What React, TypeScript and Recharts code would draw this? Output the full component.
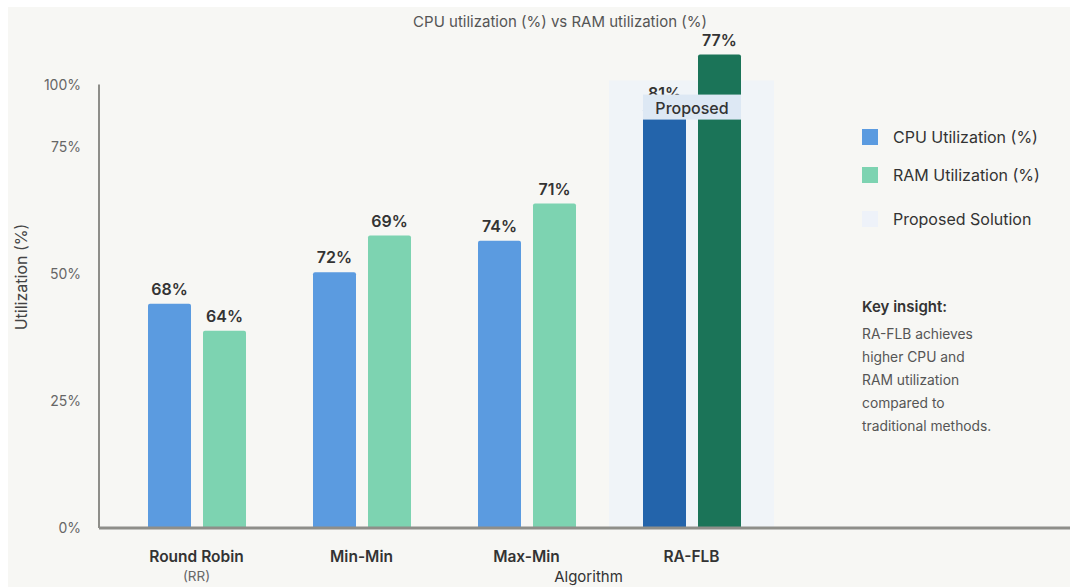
import React from 'react'
import {
  BarChart,
  Bar,
  XAxis,
  YAxis,
  CartesianGrid,
  Cell,
  LabelList,
  ReferenceArea,
  ReferenceLine,
  Legend,
} from 'recharts'

// categories and sub-captions
const algorithms = ['Round Robin', 'Min-Min', 'Max-Min', 'RA-FLB']
const subCaptions = ['(RR)', '', '', '']

// bar heights as drawn against the axis, and the labels printed on top
const cpuHeights = [44.1, 50.3, 56.5, 82.5]
const ramHeights = [38.8, 57.5, 63.8, 93.1]
const cpuLabels = ['68%', '72%', '74%', '81%']
const ramLabels = ['64%', '69%', '71%', '77%']

// y ticks (the top one is printed as 100%)
const yTicks = [0, 25, 50, 75, 87.2]
const yTickLabels = ['0%', '25%', '50%', '75%', '100%']

const insightLines = [
  'RA-FLB achieves',
  'higher CPU and',
  'RAM utilization',
  'compared to',
  'traditional methods.',
]

const legendItems = [
  { name: 'CPU Utilization (%)', color: '#5b9be0' },
  { name: 'RAM Utilization (%)', color: '#7dd3b1' },
  { name: 'Proposed Solution', color: '#eef2f9' },
]

const proposed = 'RA-FLB'
const CPU = '#5b9be0'
const RAM = '#7dd3b1'
const CPU_DARK = '#2364ab'
const RAM_DARK = '#1b7458'
const FONT = 'Inter, "Noto Sans", sans-serif'

const data = algorithms.map((name, i) => ({
  name,
  sub: subCaptions[i],
  cpu: cpuHeights[i],
  ram: ramHeights[i],
  cpuLabel: cpuLabels[i],
  ramLabel: ramLabels[i],
}))

const XTick = (props: any) => {
  const { x, y, payload, index } = props
  return (
    <g>
      <text x={x} y={y + 26} textAnchor="middle" fontSize={15.5} fontWeight={600} fill="#333" fontFamily={FONT}>
        {payload.value}
      </text>
      {subCaptions[index] ? (
        <text x={x} y={y + 45} textAnchor="middle" fontSize={13.5} fill="#666" fontFamily={FONT}>
          {subCaptions[index]}
        </text>
      ) : null}
    </g>
  )
}

const YLabel = (props: any) => {
  const { x, y, height } = props.viewBox
  const cx = x + 13
  const cy = y + height / 2 - 12
  return (
    <text x={cx} y={cy} transform={`rotate(-90 ${cx} ${cy})`} textAnchor="middle" dominantBaseline="central" fontSize={16} fill="#444" fontFamily={FONT}>
      Utilization (%)
    </text>
  )
}

// value label for the RAM bar; on the proposed column it also draws the "Proposed" tag
const RamLabel = (props: any) => {
  const { x, y, width, value, index } = props
  const cx = x + width / 2
  return (
    <g>
      <text x={cx} y={y - 9} textAnchor="middle" fontSize={16} fontWeight={600} fill="#333" fontFamily={FONT}>
        {value}
      </text>
      {algorithms[index] === proposed ? (
        <g>
          <rect x={x - 55} y={y + 40} width={98} height={25} fill="#dde8f4" />
          <text x={x - 6} y={y + 53} textAnchor="middle" dominantBaseline="central" fontSize={16} fontWeight={500} fill="#333" fontFamily={FONT}>
            Proposed
          </text>
        </g>
      ) : null}
    </g>
  )
}

const LegendBox = () => (
  <div style={{ fontFamily: FONT }}>
    {legendItems.map((it, i) => (
      <div key={it.name} style={{ display: 'flex', alignItems: 'center', height: 20, marginBottom: i === 1 ? 24 : 18 }}>
        <span style={{ width: 16, height: 16, background: it.color, display: 'inline-block', marginRight: 15 }} />
        <span style={{ fontSize: 16, color: '#333' }}>{it.name}</span>
      </div>
    ))}
  </div>
)

const gridRows = ({ yAxis }: any) =>
  yAxis && typeof yAxis.scale === 'function' ? yTicks.map((t) => yAxis.scale(t)) : []

export default function App() {
  return (
    <div style={{ position: 'absolute', left: 8, top: 7, width: 1062, height: 580, background: '#f7f7f4', fontFamily: FONT }}>
      <div style={{ position: 'absolute', left: 0, width: 1104, top: 5, textAlign: 'center', fontSize: 15, color: '#555' }}>
        CPU utilization (%) vs RAM utilization (%)
      </div>
      <BarChart
        width={1062}
        height={580}
        data={data}
        margin={{ top: 43, right: 0, bottom: 0, left: 0 }}
        barSize={43}
        barGap={12}
        barCategoryGap={33}
      >
        <CartesianGrid vertical={false} stroke="#e9e9e4" strokeWidth={1.5} horizontalCoordinatesGenerator={gridRows} />
        <ReferenceArea x1={proposed} x2={proposed} y1={0} y2={88} fill="#edf2f9" fillOpacity={0.8} stroke="none" />
        <XAxis
          dataKey="name"
          padding={{ left: 15, right: 296 }}
          height={59}
          tickLine={false}
          axisLine={{ stroke: '#8e8e89', strokeWidth: 3 }}
          tick={<XTick />}
          interval={0}
          label={{ value: 'Algorithm', position: 'insideBottom', offset: 5, dx: 4, fontSize: 15, fill: '#333', fontFamily: FONT }}
        />
        <XAxis xAxisId="edge" type="number" domain={[0, 1]} allowDataOverflow hide />
        <YAxis
          width={91}
          domain={[0, 94]}
          ticks={yTicks}
          tickFormatter={(v: number, i: number) => yTickLabels[i]}
          axisLine={false}
          tickLine={false}
          tick={{ fontSize: 14, fill: '#666', fontFamily: FONT }}
          tickMargin={12}
          interval={0}
          label={<YLabel />}
        />
        <ReferenceLine xAxisId="edge" segment={[{ x: 0, y: 0 }, { x: 0, y: 87.2 }]} stroke="#8e8e89" strokeWidth={2} />
        <Bar dataKey="cpu" fill={CPU} radius={[2, 2, 0, 0]} isAnimationActive={false}>
          {data.map((d) => (
            <Cell key={d.name} fill={d.name === proposed ? CPU_DARK : CPU} />
          ))}
          <LabelList dataKey="cpuLabel" position="top" offset={9} fontSize={16} fontWeight={600} fill="#333" fontFamily={FONT} />
        </Bar>
        <Bar dataKey="ram" fill={RAM} radius={[2, 2, 0, 0]} isAnimationActive={false}>
          {data.map((d) => (
            <Cell key={d.name} fill={d.name === proposed ? RAM_DARK : RAM} />
          ))}
          <LabelList dataKey="ramLabel" content={<RamLabel />} />
        </Bar>
        <Legend
          layout="horizontal"
          verticalAlign="middle"
          content={<LegendBox />}
          wrapperStyle={{ top: 120, left: 854, width: 210 }}
        />
      </BarChart>
      <div style={{ position: 'absolute', left: 854, top: 290, width: 200 }}>
        <div style={{ fontSize: 15, fontWeight: 600, color: '#333', marginBottom: 7 }}>Key insight:</div>
        {insightLines.map((t) => (
          <div key={t} style={{ fontSize: 13.8, color: '#555', lineHeight: '23px' }}>{t}</div>
        ))}
      </div>
    </div>
  )
}
